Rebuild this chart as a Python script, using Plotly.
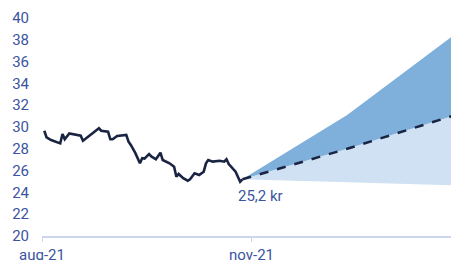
import plotly.graph_objects as go

dates = ["2021-08-02","2021-08-03","2021-08-05","2021-08-09","2021-08-10","2021-08-11",
         "2021-08-13","2021-08-17","2021-08-18","2021-08-19","2021-08-21","2021-08-24",
         "2021-08-26","2021-08-27","2021-08-30","2021-08-31","2021-09-01","2021-09-03",
         "2021-09-07","2021-09-08","2021-09-09","2021-09-11","2021-09-13","2021-09-14",
         "2021-09-15","2021-09-17","2021-09-18","2021-09-20","2021-09-22","2021-09-23",
         "2021-09-26","2021-09-28","2021-09-29","2021-09-30","2021-10-02","2021-10-04",
         "2021-10-05","2021-10-07","2021-10-09","2021-10-11","2021-10-12","2021-10-13",
         "2021-10-15","2021-10-18","2021-10-20","2021-10-21","2021-10-22","2021-10-25",
         "2021-10-27","2021-10-28"]
price = [29.66,29.05,28.8,28.5,29.36,28.87,
         29.4,29.27,29.2,28.74,29.05,29.57,
         29.88,29.66,29.57,28.87,28.87,29.17,
         29.27,28.65,28.35,27.6,26.67,27.13,
         27.1,27.52,27.3,27.04,27.64,26.97,
         26.67,26.36,25.44,25.69,25.3,25.07,
         25.2,25.75,25.6,25.9,26.67,26.97,
         26.82,26.9,26.82,27.04,26.6,25.9,
         24.98,25.2]

fc_dates = ["2021-10-28","2021-12-13","2022-01-28"]
fc_low = [25.2,24.95,24.65]
fc_mid = [25.2,28.0,31.0]
fc_high = [25.2,31.1,38.3]

yticks = [20,22,24,26,28,30,32,34,36,38,40]
xtick_vals = ["2021-08-01","2021-11-01"]
xtick_text = ["aug-21","nov-21"]
label_text = "25,2 kr"

TXT = "#3b54a0"
fig = go.Figure()
fig.add_trace(go.Scatter(x=fc_dates, y=fc_low, mode="lines", line=dict(width=0, color="#cfe1f2"),
                         hoverinfo="skip"))
fig.add_trace(go.Scatter(x=fc_dates, y=fc_mid, mode="lines", line=dict(width=0, color="#cfe1f2"),
                         fill="tonexty", fillcolor="#cfe1f2", hoverinfo="skip"))
fig.add_trace(go.Scatter(x=fc_dates, y=fc_high, mode="lines", line=dict(width=0, color="#7eb0db"),
                         fill="tonexty", fillcolor="#7eb0db", hoverinfo="skip"))
fig.add_trace(go.Scatter(x=fc_dates, y=fc_mid, mode="lines",
                         line=dict(width=2.5, color="#1a2442", dash="dash")))
fig.add_trace(go.Scatter(x=dates, y=price, mode="lines",
                         line=dict(width=2.6, color="#1a2442")))

fig.add_annotation(x=dates[-1], y=price[-1], text=label_text, showarrow=False,
                   xanchor="left", yanchor="middle", xshift=-6, yshift=-17,
                   font=dict(size=15, color=TXT))

fig.update_layout(
    width=451, height=260, showlegend=False,
    margin=dict(l=42, r=0, t=18, b=24),
    paper_bgcolor="white", plot_bgcolor="white",
    font=dict(family="Roboto", size=15, color=TXT),
    xaxis=dict(type="date", range=["2021-08-01", "2022-01-27 14:00"],
               tickvals=xtick_vals, ticktext=xtick_text, automargin=False,
               showgrid=False, zeroline=False,
               showline=True, linecolor="#cbd5ee", linewidth=2,
               ticks="outside", ticklen=4, tickcolor="#cbd5ee", tickwidth=1,
               tickfont=dict(size=15, color=TXT)),
    yaxis=dict(range=[20, 40], tickvals=yticks, showgrid=False, zeroline=False,
               automargin=False,
               showline=False, ticks="", ticklabelstandoff=12,
               tickfont=dict(size=15, color=TXT)),
)
post = ("document.body.style.margin='0';document.body.style.overflow='hidden';"
        "var gd=document.getElementsByClassName('plotly-graph-div')[0];"
        "Plotly.relayout(gd,{width:451,height:260});")
fig.write_html("out.html", post_script=post, config={"displayModeBar": False})
